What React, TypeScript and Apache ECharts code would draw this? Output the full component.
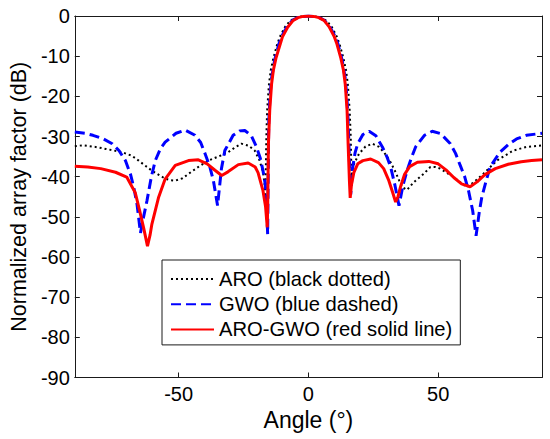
import React, { useEffect, useRef } from "react";
import * as echarts from "echarts";

const xTicks = [-50, 0, 50];

const aroAngle = [-90,-87,-82,-78,-71.8,-68,-65.4,-62.8,-60.3,-57.5,-55.2,-53,-51.3,-48.5,-46.2,-42,-38.5,-34,-30.9,-28,-25.8,-23,-20.7,-18.8,-17.5,-16.9,-16.6,-16.4,-16.2,-15.9,-15.2,-14.5,-13.5,-12,-11,-9,-7,-5,-3,0,3,5,7,9,11,12,13.5,14.5,15.2,15.9,16.3,16.6,17.2,17.6,19.5,22,24.7,27,29.1,31.5,33.6,35,36.2,38,40.6,44.4,47,49,50.8,55.9,58.5,61,63.5,67.4,72.6,78.9,84,90];
const aroValue = [-32.4,-32.2,-32.6,-33.1,-33.9,-34.8,-36.0,-37.3,-38.5,-39.6,-40.5,-40.9,-41.0,-40.4,-39.3,-37.4,-36.0,-34.8,-33.9,-32.6,-31.8,-32.3,-33.5,-36.0,-38.8,-41.8,-45.0,-38.0,-30.0,-23.5,-17.0,-13.5,-10.5,-7.0,-5.2,-2.7,-1.2,-0.45,-0.15,0,-0.15,-0.45,-1.2,-2.7,-5.2,-7.0,-10.5,-13.5,-17.0,-23.5,-30.0,-40.0,-37.5,-36.8,-34.3,-32.5,-31.8,-32.5,-33.9,-36.2,-38.9,-41.0,-42.6,-43.3,-41.4,-39.3,-37.6,-37.6,-38.0,-40.1,-41.4,-42.6,-41.5,-39.3,-36.0,-33.5,-32.6,-32.2];

const gwoAngle = [-90,-86,-83,-79,-75.6,-73,-70.5,-68.5,-67.3,-66,-64.7,-63.5,-62.2,-60.5,-59,-57,-55.2,-51,-47.5,-43.7,-41.5,-39.8,-38,-36.6,-35,-33.5,-32.2,-29,-26.5,-24.5,-22,-20,-18.5,-17.5,-16.6,-16.2,-15.7,-15.3,-14.8,-14.2,-13,-11.4,-10,-8,-6,-4,-2,0,2,4,6,8,10,11.4,13,14.2,14.8,15.3,15.8,16.3,17,18,19,21,23.4,26,28.5,30.2,31.7,33.3,34.9,36.5,38,39.7,41.3,44.7,47.7,51,54.7,56.7,58.5,60.2,61.7,63.3,64.6,65.8,66.8,68.5,70,73.8,77,80.2,84,90];
const gwoValue = [-28.9,-29.2,-29.7,-30.6,-31.8,-33.5,-36.0,-39.5,-42.6,-47.0,-54.0,-50.0,-46.0,-40.0,-36.0,-33.0,-31.4,-29.2,-28.4,-29.7,-31.5,-34.3,-37.5,-41.0,-47.2,-38.0,-33.5,-29.7,-28.6,-28.5,-29.8,-32.6,-35.5,-38.5,-42.0,-46.0,-54.3,-27.0,-20.0,-15.5,-11.0,-7.0,-4.7,-2.4,-1.0,-0.35,-0.1,0,-0.1,-0.35,-1.0,-2.4,-4.7,-7.0,-11.0,-15.5,-20.0,-26.0,-36.0,-44.5,-38.0,-34.0,-31.8,-29.5,-28.7,-29.8,-32.6,-35.0,-37.6,-42.0,-47.2,-42.0,-38.5,-35.3,-32.6,-29.7,-28.7,-29.3,-31.8,-34.2,-37.2,-40.0,-43.5,-48.5,-54.7,-49.0,-45.1,-41.0,-37.6,-33.9,-32.0,-30.6,-29.7,-29.2];

const hybridAngle = [-90,-85,-80,-74.3,-70,-66.7,-65,-63.4,-62,-61,-60.3,-57.7,-55.2,-51.3,-46.2,-42.4,-39,-36,-33.4,-31,-27,-23.2,-20.5,-19.4,-17.5,-16.5,-15.85,-15.65,-15.4,-14.9,-14.2,-13.5,-12.5,-11,-10,-8,-6,-4,-2,0,2,4,6,8,10,11,12.5,13.5,14.2,14.9,15.3,15.8,16.1,16.6,17.5,19,21,24,27,29,31,32.5,33.6,34.5,35.5,37,39,42,46.4,50,53,56,59,62.3,65,68,72,77,82,86,90];
const hybridValue = [-37.4,-37.6,-38.0,-38.9,-40.1,-44.0,-48.5,-53.0,-57.3,-54.5,-51.8,-45.1,-40.6,-37.2,-36.0,-35.8,-36.8,-38.4,-39.7,-38.8,-37.0,-36.6,-37.6,-39.0,-43.5,-47.5,-52.6,-46.0,-31.8,-23.5,-17.0,-13.5,-10.5,-7.3,-5.2,-2.8,-1.2,-0.4,-0.1,0,-0.1,-0.4,-1.1,-2.7,-5.2,-7.0,-10.5,-13.5,-17.0,-23.5,-31.8,-41.0,-45.3,-42.0,-39.0,-36.8,-36.0,-35.6,-36.5,-38.0,-41.0,-44.0,-46.3,-45.0,-42.5,-39.5,-37.5,-36.4,-36.2,-36.8,-38.3,-40.2,-41.8,-42.5,-41.3,-39.5,-38.0,-36.9,-36.3,-36.0,-35.8];

const seriesNames = ["ARO (black dotted)", "GWO (blue dashed)", "ARO-GWO (red solid line)"];

const FONT = "Liberation Sans, Arial, sans-serif";

function pairs(xs: number[], ys: number[]) {
  return xs.map((x, i) => [x, ys[i]]);
}

export default function App() {
  const ref = useRef<HTMLDivElement>(null);
  useEffect(() => {
    if (!ref.current) return;
    const chart = echarts.init(ref.current, undefined, { renderer: "svg" });
    const axisLine = { show: true, onZero: false, lineStyle: { color: "#1a1a1a", width: 1 } };
    const tickStyle = { color: "#1a1a1a", width: 1 };
    chart.setOption({
      animation: false,
      backgroundColor: "#ffffff",
      grid: { left: 73, right: 8, top: 16, bottom: 61.5, containLabel: false },
      legend: {
        orient: "vertical",
        left: 162,
        top: 260,
        itemWidth: 43,
        itemHeight: 20,
        itemGap: 5.2,
        padding: [9, 8, 5.5, 8],
        borderColor: "#1a1a1a",
        borderWidth: 1,
        borderRadius: 0,
        backgroundColor: "#ffffff",
        itemStyle: { opacity: 0 },
        textStyle: { fontFamily: FONT, fontSize: 20.2, color: "#000" },
        data: seriesNames,
      },
      xAxis: [
        {
          type: "value",
          min: -90,
          max: 90,
          position: "bottom",
          axisLine,
          axisTick: { show: true, inside: true, length: 5, lineStyle: tickStyle, customValues: xTicks },
          axisLabel: { show: true, customValues: xTicks, fontFamily: FONT, fontSize: 20, color: "#000", margin: 6 },
          splitLine: { show: false },
          name: "Angle (°)",
          nameLocation: "middle",
          nameGap: 28,
          nameTextStyle: { fontFamily: FONT, fontSize: 23, color: "#000" },
        },
        {
          type: "value",
          min: -90,
          max: 90,
          position: "top",
          axisLine,
          axisTick: { show: true, inside: true, length: 5, lineStyle: tickStyle, customValues: xTicks },
          axisLabel: { show: false },
          splitLine: { show: false },
        },
      ],
      yAxis: [
        {
          type: "value",
          min: -90,
          max: 0,
          interval: 10,
          position: "left",
          axisLine,
          axisTick: { show: true, inside: true, length: 5, lineStyle: tickStyle },
          axisLabel: { show: true, fontFamily: FONT, fontSize: 20, color: "#000", margin: 5 },
          splitLine: { show: false },
          name: "Normalized array factor (dB)",
          nameLocation: "middle",
          nameGap: 40,
          nameTextStyle: { fontFamily: FONT, fontSize: 21.5, color: "#000" },
        },
        {
          type: "value",
          min: -90,
          max: 0,
          interval: 10,
          position: "right",
          axisLine,
          axisTick: { show: true, inside: true, length: 5, lineStyle: tickStyle },
          axisLabel: { show: false },
          splitLine: { show: false },
        },
      ],
      series: [
        {
          name: seriesNames[0],
          type: "line",
          xAxisIndex: 0,
          yAxisIndex: 0,
          data: pairs(aroAngle, aroValue),
          symbol: "none",
          showSymbol: false,
          lineStyle: { color: "#000000", width: 2, type: [2, 3] },
          itemStyle: { color: "#000000" },
        },
        {
          name: seriesNames[1],
          type: "line",
          xAxisIndex: 0,
          yAxisIndex: 0,
          data: pairs(gwoAngle, gwoValue),
          symbol: "none",
          showSymbol: false,
          lineStyle: { color: "#0000ff", width: 3, type: [10, 5] },
          itemStyle: { color: "#0000ff" },
        },
        {
          name: seriesNames[2],
          type: "line",
          xAxisIndex: 0,
          yAxisIndex: 0,
          data: pairs(hybridAngle, hybridValue),
          symbol: "none",
          showSymbol: false,
          lineStyle: { color: "#ff0000", width: 3 },
          itemStyle: { color: "#ff0000" },
        },
      ],
    });
    return () => chart.dispose();
  }, []);
  return (
    <div
      ref={ref}
      style={{ position: "absolute", left: 0, top: 0, width: 550, height: 439, background: "#fff" }}
    />
  );
}
